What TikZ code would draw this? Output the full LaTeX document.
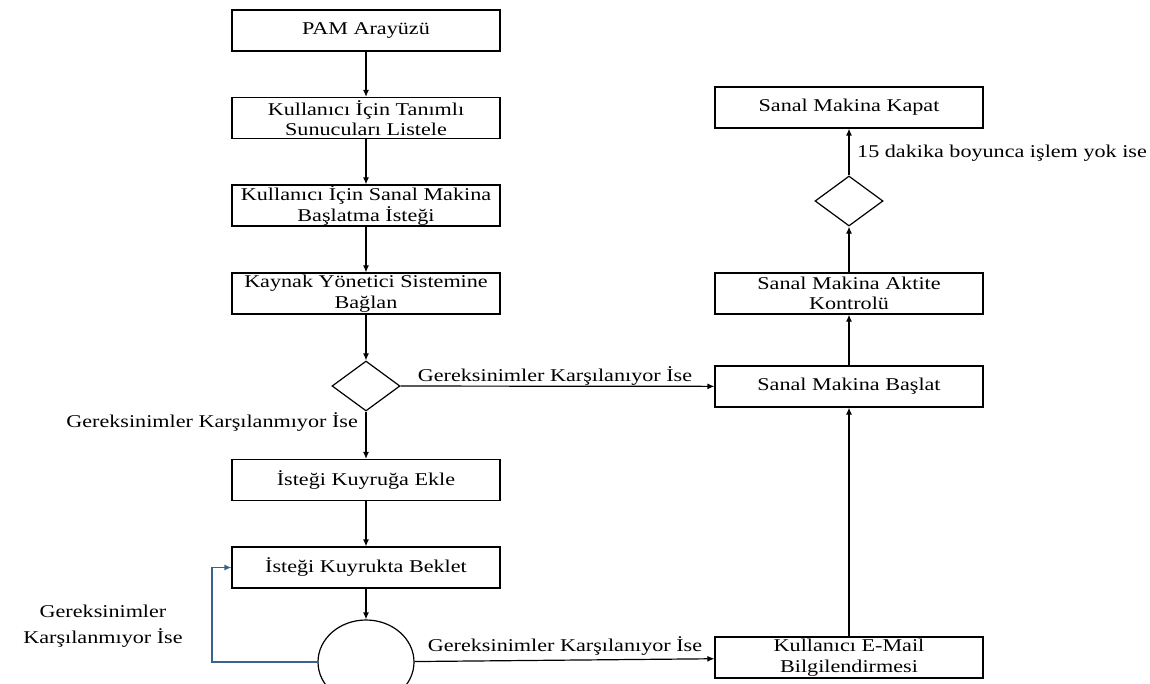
\documentclass[tikz,border=0pt]{standalone}
\usepackage{fontspec}
\setmainfont{Liberation Serif}[FakeStretch=1.23]
\usetikzlibrary{arrows.meta,shapes.geometric}
\tikzset{
  box/.style={draw, line width=1.2pt, minimum width=268pt, minimum height=41pt, inner sep=0pt, align=center, font=\fontsize{18}{20.5}\selectfont},
  dec/.style={draw, diamond, line width=1.2pt, minimum width=68pt, minimum height=50pt, inner sep=0pt},
  circ/.style={draw, ellipse, line width=1.2pt, minimum width=96pt, minimum height=84pt, inner sep=0pt},
  arr/.style={line width=1.2pt, -{Latex[length=7pt,width=6pt]}},
  barr/.style={line width=1.2pt, draw={rgb,255:red,58;green,98;blue,140}, -{Latex[length=7pt,width=6pt]}},
  lbl/.style={font=\fontsize{18}{26}\selectfont, inner sep=0pt, align=center}
}
\begin{document}
\begin{tikzpicture}[x=1pt,y=-1pt]
\useasboundingbox (0,0) rectangle (1150,684);
\node[box] (pam) at (366,30.5) {PAM Arayüzü};
\node[box] (list) at (366,118) {Kullanıcı İçin Tanımlı\\Sunucuları Listele};
\node[box] (start) at (366,205.5) {Kullanıcı İçin Sanal Makina\\Başlatma İsteği};
\node[box] (kaynak) at (366,293.5) {Kaynak Yönetici Sistemine\\Bağlan};
\node[dec] (d1) at (366,386) {};
\node[box] (ekle) at (366,480) {İsteği Kuyruğa Ekle};
\node[box] (beklet) at (366,567.5) {İsteği Kuyrukta Beklet};
\node[circ] (c) at (366,662) {};
\node[box] (kapat) at (849,107.5) {Sanal Makina Kapat};
\node[dec] (d2) at (849,201) {};
\node[box] (aktif) at (849,293.5) {Sanal Makina Aktite\\Kontrolü};
\node[box] (baslat) at (849,386.5) {Sanal Makina Başlat};
\node[box] (mail) at (849,657.5) {Kullanıcı E-Mail\\Bilgilendirmesi};
\coordinate (lp1) at (212,662);
\coordinate (lp2) at (212,567.5);

\draw[arr] (pam) -- (list);
\draw[arr] (list) -- (start);
\draw[arr] (start) -- (kaynak);
\draw[arr] (kaynak) -- (d1);
\draw[arr] (d1) -- (ekle);
\draw[arr] (d1) -- (baslat);
\draw[arr] (ekle) -- (beklet);
\draw[arr] (beklet) -- (c);
\draw[arr] (c) -- (mail);
\draw[barr] (c.west) -- (lp1) -- (lp2) -- (beklet.west);
\draw[arr] (mail) -- (baslat);
\draw[arr] (baslat) -- (aktif);
\draw[arr] (aktif) -- (d2);
\draw[arr] (d2) -- (kapat);

\node[lbl] (l1) at (555,376) {Gereksinimler Karşılanıyor İse};
\node[lbl, anchor=east] (l2) at (358,422) {Gereksinimler Karşılanmıyor İse};
\node[lbl] (l3) at (103,626) {Gereksinimler\\Karşılanmıyor İse};
\node[lbl] (l4) at (565,646) {Gereksinimler Karşılanıyor İse};
\node[lbl, anchor=west] (l5) at (857,153) {15 dakika boyunca işlem yok ise};
\end{tikzpicture}
\end{document}
